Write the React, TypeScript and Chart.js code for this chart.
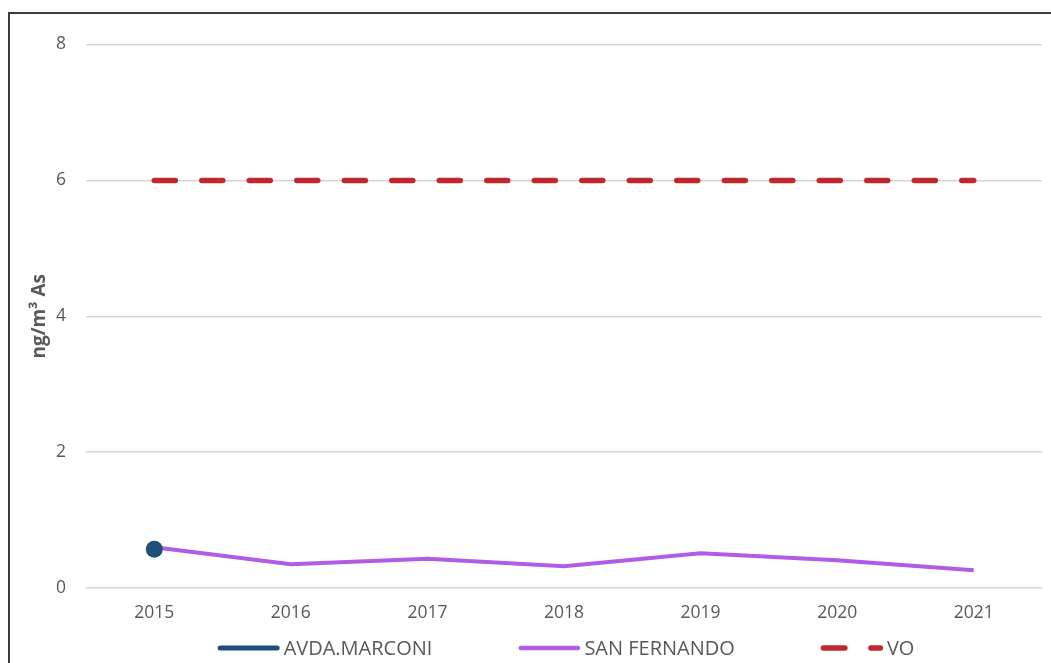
import React, { useEffect, useRef } from 'react';
import { Chart, registerables } from 'chart.js';

Chart.register(...registerables);

const years = ['2015', '2016', '2017', '2018', '2019', '2020', '2021'];
const avdaMarconi = [0.57, null, null, null, null, null, null];
const sanFernando = [0.6, 0.35, 0.43, 0.32, 0.51, 0.41, 0.26];
const voLimit = [6, 6, 6, 6, 6, 6, 6];
const seriesLabels = ['AVDA.MARCONI', 'SAN FERNANDO', 'VO'];
const yAxisTitle = 'ng/m³ As';

const FONT = '"Open Sans", "Liberation Sans", sans-serif';
const TEXT = '#595959';

const legendPlugin = {
  id: 'customLegend',
  afterDraw(chart: any) {
    const ctx = chart.ctx;
    ctx.save();
    ctx.font = `20px ${FONT}`;
    ctx.textBaseline = 'middle';
    ctx.textAlign = 'left';
    const lineLen = 62;
    const textGap = 4;
    const itemGap = 86;
    const items = chart.data.datasets.map((ds: any) => ({
      label: ds.label,
      color: ds.borderColor,
      dash: ds.legendDash || [],
      width: ds.legendWidth || 4,
      textW: ctx.measureText(ds.label).width,
    }));
    const total = items.reduce((s: number, it: any) => s + lineLen + textGap + it.textW, 0) + itemGap * (items.length - 1);
    let x = 556 - total / 2;
    const y = 634;
    items.forEach((it: any) => {
      ctx.beginPath();
      ctx.strokeStyle = it.color;
      ctx.lineWidth = it.width;
      ctx.lineCap = 'round';
      ctx.setLineDash(it.dash);
      ctx.moveTo(x + 2.5, y);
      ctx.lineTo(x + lineLen - 2.5, y);
      ctx.stroke();
      ctx.setLineDash([]);
      ctx.fillStyle = TEXT;
      ctx.fillText(it.label, x + lineLen + textGap, y + 1);
      x += lineLen + textGap + it.textW + itemGap;
    });
    ctx.restore();
  },
};

export default function App() {
  const ref = useRef<HTMLCanvasElement | null>(null);

  useEffect(() => {
    if (!ref.current) return;
    const chart = new Chart(ref.current, {
      type: 'line',
      data: {
        labels: years,
        datasets: [
          {
            label: seriesLabels[0],
            data: avdaMarconi,
            borderColor: '#1F4E79',
            backgroundColor: '#1F4E79',
            borderWidth: 4,
            pointRadius: 8.5,
            pointHoverRadius: 8.5,
            pointBorderWidth: 0,
            legendWidth: 5,
          } as any,
          {
            label: seriesLabels[1],
            data: sanFernando,
            borderColor: '#B05CE6',
            backgroundColor: '#B05CE6',
            borderWidth: 4,
            pointRadius: 0,
            tension: 0,
            legendWidth: 4.5,
          } as any,
          {
            label: seriesLabels[2],
            data: voLimit,
            borderColor: '#C0282D',
            backgroundColor: '#C0282D',
            borderWidth: 5.5,
            borderDash: [21, 26.5],
            borderCapStyle: 'round',
            pointRadius: 0,
            legendWidth: 5.5,
            legendDash: [21.5, 26],
          } as any,
        ],
      },
      options: {
        responsive: false,
        animation: false,
        layout: { padding: { left: 0, right: 9, top: 29, bottom: 36 } },
        plugins: {
          legend: { display: false },
          tooltip: { enabled: false },
        },
        scales: {
          x: {
            offset: true,
            grid: { display: false, drawTicks: false },
            border: { display: false },
            ticks: { color: TEXT, font: { family: FONT, size: 17.5 }, padding: 15, maxRotation: 0 },
            afterFit: (s: any) => { s.height = 40; },
          },
          y: {
            min: 0,
            max: 8,
            ticks: { stepSize: 2, color: TEXT, font: { family: FONT, size: 17.5 }, padding: 20 },
            grid: { color: '#D4D4D4', lineWidth: 1.5, drawTicks: false },
            border: { display: false },
            title: {
              display: true,
              text: yAxisTitle,
              color: TEXT,
              font: { family: FONT, size: 19, weight: 'bold' },
              padding: { top: 18, bottom: 0 },
            },
            afterFit: (s: any) => { s.width = 76; },
          },
        },
      },
      plugins: [legendPlugin],
    });
    return () => chart.destroy();
  }, []);

  return (
    <div
      style={{
        position: 'fixed',
        left: 8,
        top: 12,
        width: 1100,
        height: 700,
        borderTop: '2px solid #3C3C3C',
        borderLeft: '2px solid #3C3C3C',
        background: '#fff',
      }}
    >
      <canvas ref={ref} width={1041} height={650} style={{ display: 'block' }} />
    </div>
  );
}
